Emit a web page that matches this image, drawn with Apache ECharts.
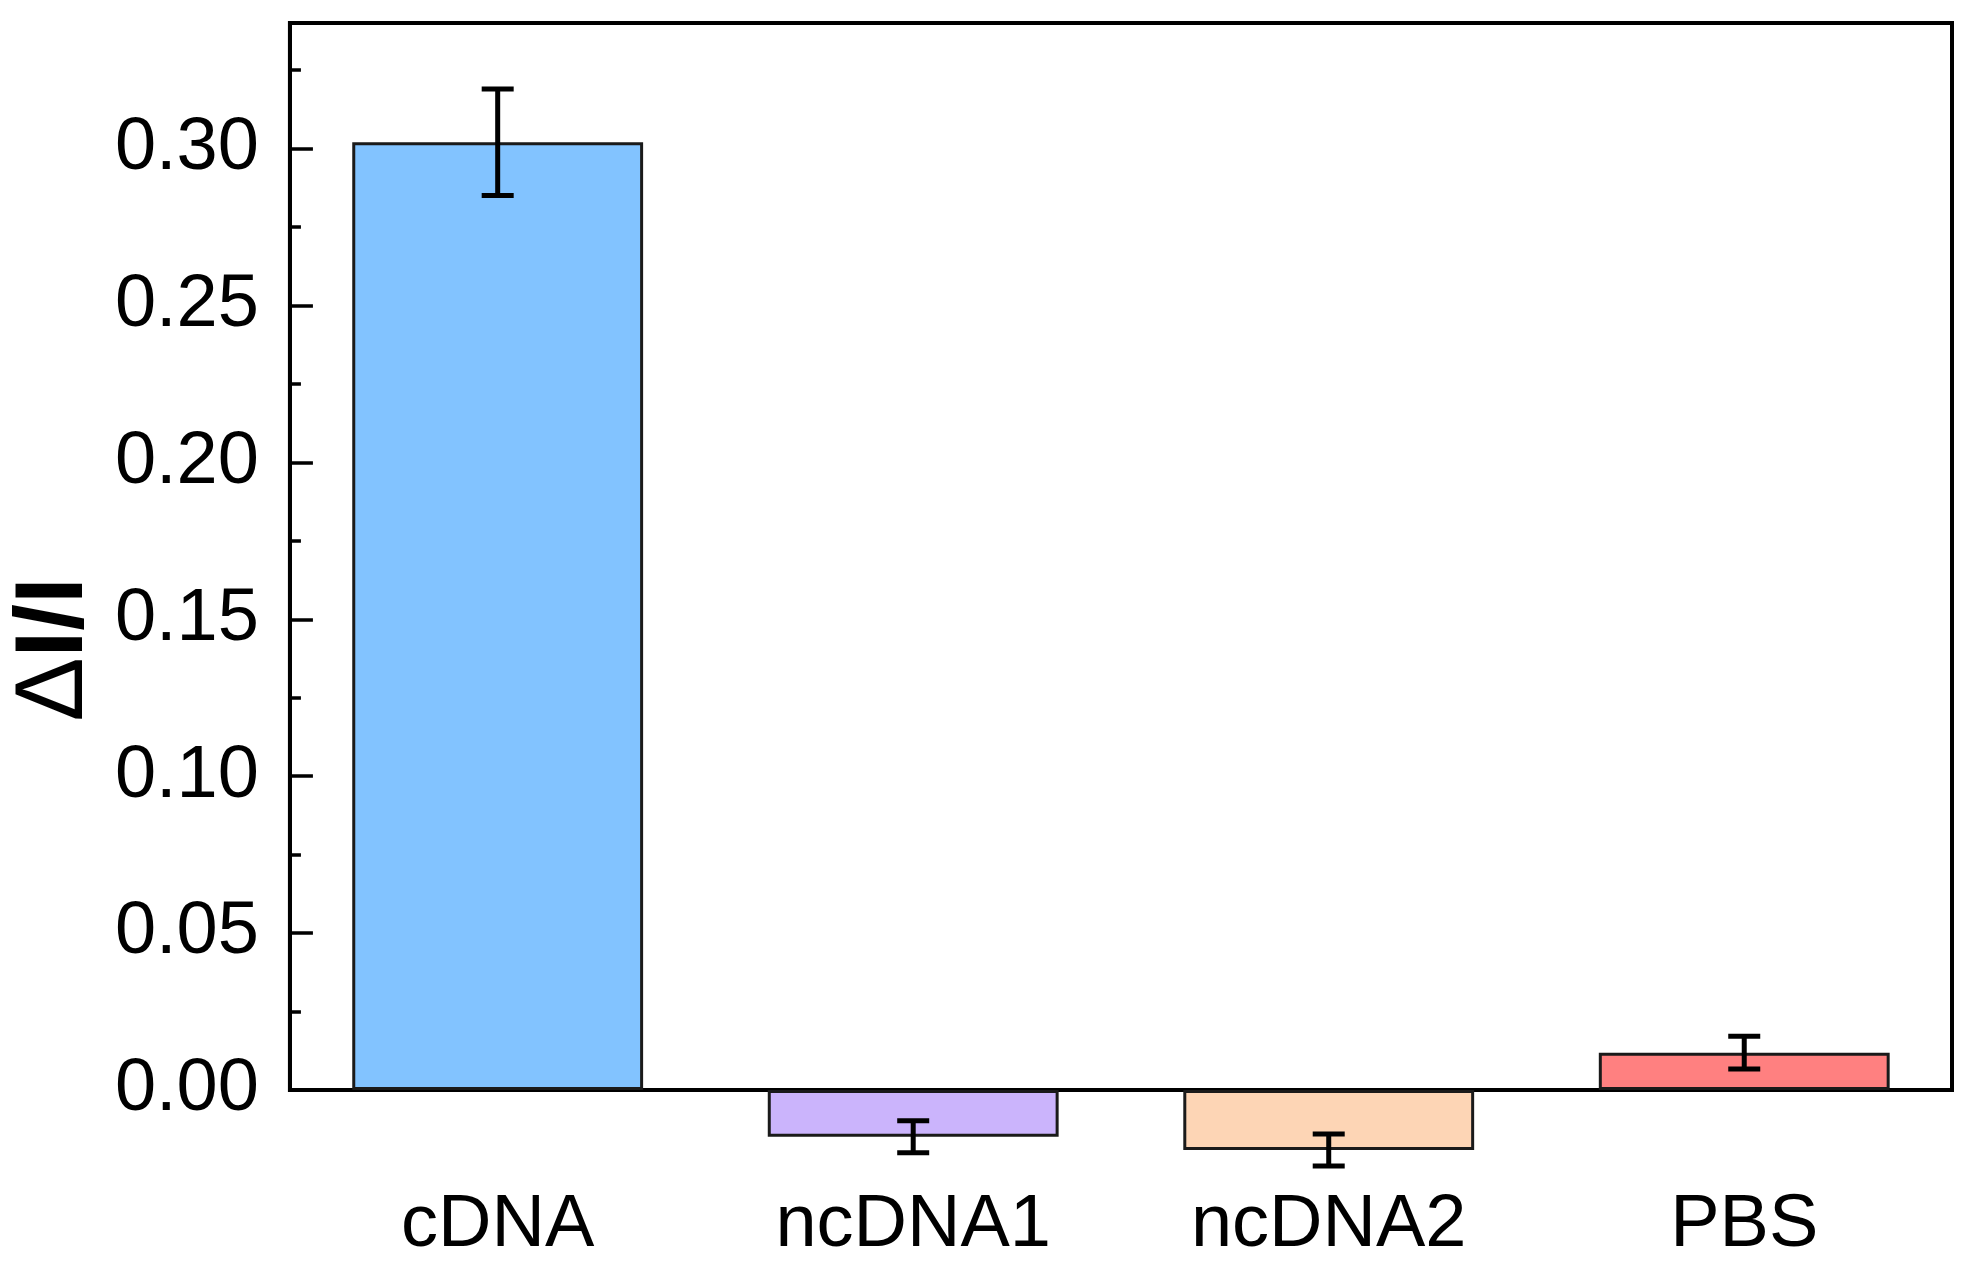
<!DOCTYPE html>
<html>
<head>
<meta charset="utf-8">
<script src="https://cdn.jsdelivr.net/npm/echarts@6/dist/echarts.min.js"></script>
<style>
html,body{margin:0;padding:0;background:#fff;}
#chart{width:1974px;height:1280px;}
</style>
</head>
<body>
<div id="chart"></div>
<script>
const categories = ['cDNA', 'ncDNA1', 'ncDNA2', 'PBS'];
const values = [0.302, -0.0149, -0.0191, 0.0119];
const errors = [0.017, 0.0051, 0.0051, 0.0052];
const barColors = ['#82C3FF', '#CBB4FC', '#FDD5B5', '#FF8080'];
const yTickValues = [0, 0.05, 0.10, 0.15, 0.20, 0.25, 0.30];
const yAxisTitle = '{d|Δ}{b|I/I}';

const chart = echarts.init(document.getElementById('chart'), null, {renderer: 'canvas'});

const barData = values.map((v, i) => ({
  value: v,
  itemStyle: {color: barColors[i]}
}));
const errData = values.map((v, i) => [i, v - errors[i], v + errors[i]]);

const FONT = '"Liberation Sans", Arial, sans-serif';

const option = {
  backgroundColor: '#ffffff',
  animation: false,
  grid: {
    left: 286, right: 22, top: 23, bottom: 190,
    show: true, borderColor: '#000', borderWidth: 4, backgroundColor: 'transparent'
  },
  xAxis: {
    type: 'category',
    data: categories,
    boundaryGap: true,
    axisLine: {show: true, onZero: false, lineStyle: {color: '#000', width: 4}},
    axisTick: {show: false},
    axisLabel: {
      color: '#000', fontSize: 74, fontFamily: FONT, margin: 99
    },
    splitLine: {show: false}
  },
  yAxis: [{
    type: 'value',
    min: 0, max: 0.34, interval: 0.05,
    name: yAxisTitle,
    nameLocation: 'middle',
    nameGap: 173,
    nameTextStyle: {
      color: '#000', fontSize: 96, fontWeight: 'bold', fontFamily: FONT,
      padding: [0, 186, 0, 0],
      rich: {
        d: {fontSize: 96, fontWeight: 'normal', fontFamily: FONT, color: '#000'},
        b: {fontSize: 96, fontWeight: 'bold', fontFamily: FONT, color: '#000'}
      }
    },
    axisLine: {show: true, lineStyle: {color: '#000', width: 4}},
    axisTick: {show: true, inside: true, length: 23, lineStyle: {color: '#000', width: 3.5}},
    axisLabel: {
      color: '#000', fontSize: 74, fontFamily: FONT, margin: 31,
      showMaxLabel: false,
      formatter: function (v) {
        for (const t of yTickValues) { if (Math.abs(t - v) < 1e-9) return v.toFixed(2); }
        return '';
      }
    },
    splitLine: {show: false}
  }, {
    type: 'value',
    position: 'left',
    min: 0, max: 0.34, interval: 0.025,
    axisLine: {show: false},
    axisTick: {show: true, inside: true, length: 11, lineStyle: {color: '#000', width: 3.5}},
    axisLabel: {show: false},
    splitLine: {show: false}
  }],
  series: [{
    type: 'bar',
    data: barData,
    barWidth: '70%',
    clip: false,
    itemStyle: {borderColor: '#1a1a1a', borderWidth: 3},
    z: 2
  }, {
    type: 'custom',
    clip: false,
    z: 5,
    data: errData,
    encode: {x: 0, y: [1, 2]},
    renderItem: function (params, api) {
      const i = api.value(0);
      const lo = api.coord([i, api.value(1)]);
      const hi = api.coord([i, api.value(2)]);
      const cap = 16;
      const style = {stroke: '#000', lineWidth: 5, fill: null};
      return {
        type: 'group',
        children: [
          {type: 'line', shape: {x1: lo[0], y1: lo[1], x2: hi[0], y2: hi[1]}, style: style},
          {type: 'line', shape: {x1: lo[0] - cap, y1: lo[1], x2: lo[0] + cap, y2: lo[1]}, style: style},
          {type: 'line', shape: {x1: hi[0] - cap, y1: hi[1], x2: hi[0] + cap, y2: hi[1]}, style: style}
        ]
      };
    }
  }]
};
chart.setOption(option);
</script>
</body>
</html>
